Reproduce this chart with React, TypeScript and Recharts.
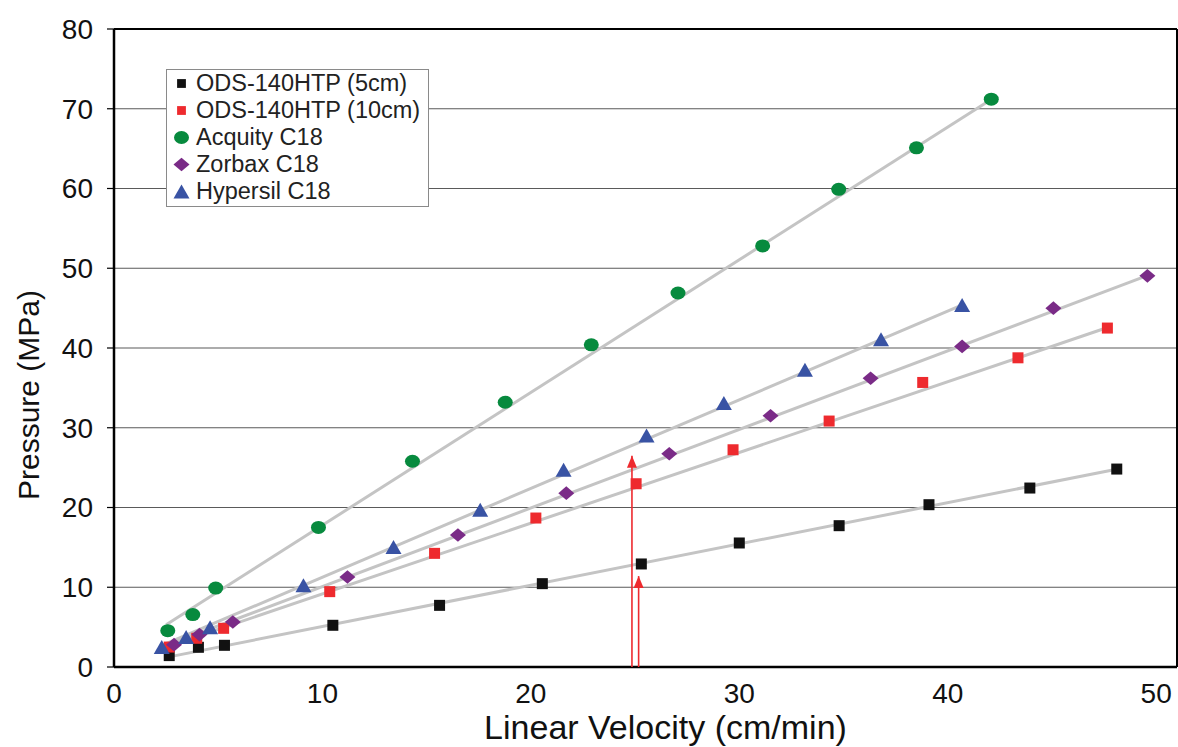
import { CartesianGrid, Legend, ReferenceLine, Scatter, ScatterChart, XAxis, YAxis } from "recharts";

// linear velocity (cm/min) vs pressure (MPa)
const ods5cm = [
  { v: 2.65, p: 1.43 }, { v: 4.05, p: 2.47 }, { v: 5.3, p: 2.72 }, { v: 10.5, p: 5.23 },
  { v: 15.62, p: 7.73 }, { v: 20.55, p: 10.45 }, { v: 25.3, p: 12.92 }, { v: 30.0, p: 15.55 },
  { v: 34.79, p: 17.72 }, { v: 39.1, p: 20.35 }, { v: 43.94, p: 22.44 }, { v: 48.11, p: 24.82 },
];
const ods10cm = [
  { v: 2.65, p: 2.5 }, { v: 3.97, p: 3.6 }, { v: 5.26, p: 4.85 }, { v: 10.35, p: 9.45 },
  { v: 15.38, p: 14.25 }, { v: 20.24, p: 18.68 }, { v: 25.05, p: 22.98 }, { v: 29.7, p: 27.24 },
  { v: 34.31, p: 30.84 }, { v: 38.8, p: 35.68 }, { v: 43.37, p: 38.77 }, { v: 47.66, p: 42.5 },
];
const acquity = [
  { v: 2.58, p: 4.56 }, { v: 3.78, p: 6.57 }, { v: 4.88, p: 9.9 }, { v: 9.81, p: 17.5 },
  { v: 14.32, p: 25.8 }, { v: 18.77, p: 33.2 }, { v: 22.9, p: 40.4 }, { v: 27.06, p: 46.9 },
  { v: 31.12, p: 52.8 }, { v: 34.77, p: 59.9 }, { v: 38.5, p: 65.1 }, { v: 42.09, p: 71.2 },
];
const zorbax = [
  { v: 2.88, p: 2.8 }, { v: 4.1, p: 4.06 }, { v: 5.7, p: 5.65 }, { v: 11.2, p: 11.29 },
  { v: 16.5, p: 16.55 }, { v: 21.7, p: 21.8 }, { v: 26.64, p: 26.74 }, { v: 31.5, p: 31.5 },
  { v: 36.3, p: 36.2 }, { v: 40.69, p: 40.2 }, { v: 45.07, p: 45.0 }, { v: 49.58, p: 49.05 },
];
const hypersil = [
  { v: 2.29, p: 2.5 }, { v: 3.46, p: 3.77 }, { v: 4.61, p: 4.98 }, { v: 9.09, p: 10.24 },
  { v: 13.41, p: 15.05 }, { v: 17.57, p: 19.72 }, { v: 21.57, p: 24.74 }, { v: 25.55, p: 29.04 },
  { v: 29.26, p: 33.1 }, { v: 33.15, p: 37.27 }, { v: 36.8, p: 41.1 }, { v: 40.69, p: 45.4 },
];

// gray trend line end points
const ods5Fit = [{ v: 2.7, p: 1.3 }, { v: 48.1, p: 24.8 }];
const ods10Fit = [{ v: 2.6, p: 2.6 }, { v: 47.7, p: 42.6 }];
const acquityFit = [{ v: 2.5, p: 5.3 }, { v: 42.1, p: 71.2 }];
const zorbaxFit = [{ v: 2.9, p: 3.1 }, { v: 49.6, p: 49.1 }];
const hypersilFit = [{ v: 2.3, p: 2.7 }, { v: 40.7, p: 45.4 }];

// red arrows at ~25 cm/min
const arrowTall = [{ v: 24.85, p: 0 }, { v: 24.85, p: 26.5 }];
const arrowShort = [{ v: 25.17, p: 0 }, { v: 25.17, p: 11.4 }];

const xTicks = [0, 10, 20, 30, 40, 50];
const yTicks = [0, 10, 20, 30, 40, 50, 60, 70, 80];
const legendNames = ["ODS-140HTP (5cm)", "ODS-140HTP (10cm)", "Acquity C18", "Zorbax C18", "Hypersil C18"];

const BLACK = "#111111";
const RED = "#ee2a2e";
const GREEN = "#078a3e";
const PURPLE = "#7a2b87";
const BLUE = "#3953a4";
const FIT = "#c4c4c4";
const FONT = '"Liberation Sans", Arial, sans-serif';

type Kind = "square" | "circle" | "diamond" | "triangle";

function marker(kind: Kind, color: string, cx: number, cy: number, s = 1) {
  if (kind === "square") {
    const h = 5.5 * s;
    return <rect x={cx - h} y={cy - h} width={h * 2} height={h * 2} fill={color} />;
  }
  if (kind === "circle") return <ellipse cx={cx} cy={cy} rx={7.5 * s} ry={6.5 * s} fill={color} />;
  if (kind === "diamond") {
    const w = 8 * s, h = 6.8 * s;
    return <path d={`M${cx},${cy - h}L${cx + w},${cy}L${cx},${cy + h}L${cx - w},${cy}Z`} fill={color} />;
  }
  const w = 8 * s, h = 7 * s;
  return <path d={`M${cx},${cy - h}L${cx + w},${cy + h}L${cx - w},${cy + h}Z`} fill={color} />;
}

const legendMarks: [Kind, string, number][] = [
  ["square", BLACK, 0.8],
  ["square", RED, 0.8],
  ["circle", GREEN, 1],
  ["diamond", PURPLE, 1],
  ["triangle", BLUE, 1],
];

function LegendBox() {
  return (
    <div style={{ border: "1.5px solid #8a8a8a", background: "#fff", width: 263, height: 138, boxSizing: "border-box", paddingTop: 0, fontFamily: FONT }}>
      {legendNames.map((name, i) => (
        <div key={name} style={{ height: 27, display: "flex", alignItems: "center" }}>
          <svg width={29} height={27}>{marker(legendMarks[i][0], legendMarks[i][1], 14.5, 13.5, legendMarks[i][2])}</svg>
          <span style={{ fontSize: 23.5, color: "#222", lineHeight: "27px" }}>{name}</span>
        </div>
      ))}
    </div>
  );
}

const arrowHead = (p: any) =>
  p.payload && p.payload.p > 0 ? (
    <path d={`M${p.cx},${p.cy}L${p.cx + 5},${p.cy + 12}L${p.cx - 5},${p.cy + 12}Z`} fill={RED} />
  ) : (
    <g />
  );

const noDot = () => <g />;

export default function App() {
  const tickStyle = { fontSize: 28, fill: "#111", fontFamily: FONT };
  return (
    <div style={{ position: "fixed", left: 0, top: 0, width: 1178, height: 747, background: "#fff" }}>
      <ScatterChart width={1178} height={747} margin={{ top: 29, right: 1, bottom: 0, left: 0 }}>
        <CartesianGrid vertical={false} stroke="#5a5a5a" strokeWidth={1.2} />
        <XAxis
          type="number"
          dataKey="v"
          domain={[0, 51]}
          ticks={xTicks}
          height={80}
          tickLine={false}
          tickSize={0}
          tickMargin={16}
          axisLine={{ stroke: "#000", strokeWidth: 2.5 }}
          tick={tickStyle}
          label={{
            content: (props: any) => {
              const vb = props.viewBox || { x: 114, y: 667, width: 1063, height: 80 };
              return (
                <text x={vb.x + vb.width / 2 + 20} y={vb.y + 72} textAnchor="middle" fontSize={34} fill="#111" fontFamily={FONT}>
                  Linear Velocity (cm/min)
                </text>
              );
            },
          }}
        />
        <YAxis
          type="number"
          dataKey="p"
          domain={[0, 80]}
          ticks={yTicks}
          width={114}
          tickSize={7}
          tickMargin={14}
          tickLine={{ stroke: "#000", strokeWidth: 1.2 }}
          axisLine={{ stroke: "#000", strokeWidth: 2.5 }}
          tick={tickStyle}
          label={{
            content: (props: any) => {
              const vb = props.viewBox || { x: 0, y: 29, width: 114, height: 638 };
              const cx = vb.x + 28;
              const cy = vb.y + vb.height / 2 + 47;
              return (
                <text x={cx} y={cy} transform={`rotate(-90 ${cx} ${cy})`} textAnchor="middle" dominantBaseline="central" fontSize={30} fill="#111" fontFamily={FONT}>
                  Pressure (MPa)
                </text>
              );
            },
          }}
        />
        <ReferenceLine y={80} stroke="#000" strokeWidth={2} />
        <ReferenceLine x={51} stroke="#000" strokeWidth={2} />

        <Scatter data={ods5Fit} line={{ stroke: FIT, strokeWidth: 3 }} shape={noDot} isAnimationActive={false} legendType="none" />
        <Scatter data={ods10Fit} line={{ stroke: FIT, strokeWidth: 3 }} shape={noDot} isAnimationActive={false} legendType="none" />
        <Scatter data={acquityFit} line={{ stroke: FIT, strokeWidth: 3 }} shape={noDot} isAnimationActive={false} legendType="none" />
        <Scatter data={zorbaxFit} line={{ stroke: FIT, strokeWidth: 3 }} shape={noDot} isAnimationActive={false} legendType="none" />
        <Scatter data={hypersilFit} line={{ stroke: FIT, strokeWidth: 3 }} shape={noDot} isAnimationActive={false} legendType="none" />

        <Scatter data={arrowTall} line={{ stroke: RED, strokeWidth: 1.6 }} shape={arrowHead} isAnimationActive={false} legendType="none" />
        <Scatter data={arrowShort} line={{ stroke: RED, strokeWidth: 1.6 }} shape={arrowHead} isAnimationActive={false} legendType="none" />

        <Scatter name="ODS-140HTP (5cm)" data={ods5cm} shape={(p: any) => marker("square", BLACK, p.cx, p.cy)} isAnimationActive={false} />
        <Scatter name="ODS-140HTP (10cm)" data={ods10cm} shape={(p: any) => marker("square", RED, p.cx, p.cy)} isAnimationActive={false} />
        <Scatter name="Acquity C18" data={acquity} shape={(p: any) => marker("circle", GREEN, p.cx, p.cy)} isAnimationActive={false} />
        <Scatter name="Zorbax C18" data={zorbax} shape={(p: any) => marker("diamond", PURPLE, p.cx, p.cy)} isAnimationActive={false} />
        <Scatter name="Hypersil C18" data={hypersil} shape={(p: any) => marker("triangle", BLUE, p.cx, p.cy)} isAnimationActive={false} />

        <Legend
          layout="vertical"
          align="center"
          verticalAlign="middle"
          content={() => <LegendBox />}
          wrapperStyle={{ left: 166, top: 69, width: 263 }}
        />
      </ScatterChart>
    </div>
  );
}
